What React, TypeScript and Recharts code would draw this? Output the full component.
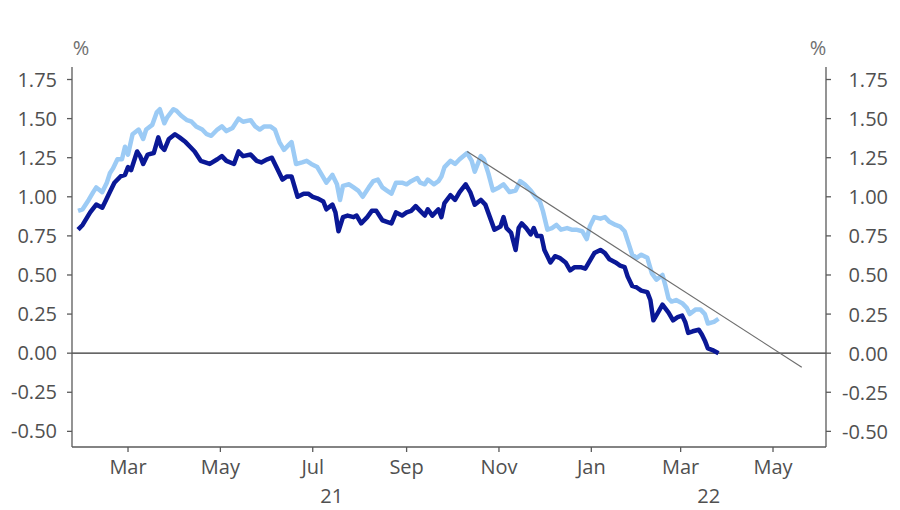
import { LineChart, Line, XAxis, YAxis, ReferenceLine } from "recharts";

// x values are days counted from 1 Jan 2021
const lightDays = [
  26, 29, 33, 36, 38, 42, 45, 47, 49, 52, 55, 57, 59, 62, 66, 69, 71, 75, 78, 80,
  83, 85, 89, 91, 94, 98, 101, 104, 108, 111, 114, 118, 121, 124, 128, 132, 135, 140, 143, 146,
  149, 153, 156, 159, 162, 165, 167, 170, 174, 177, 180, 184, 187, 190, 194, 197, 199, 201, 205, 208,
  211, 214, 218, 221, 224, 227, 230, 233, 236, 240, 243, 246, 250, 252, 255, 257, 261, 264, 266, 268,
  272, 275, 278, 283, 286, 288, 292, 294, 297, 300, 304, 307, 311, 315, 318, 321, 325, 328, 331, 333,
  336, 339, 342, 345, 349, 352, 355, 359, 362, 364, 367, 371, 374, 377, 381, 384, 387, 389, 392, 395,
  398, 402, 405, 408, 412, 414, 416, 418, 421, 425, 428, 430, 434, 437, 440, 442, 446, 449,
];
const lightValues = [
  0.91, 0.92, 0.98, 1.03, 1.06, 1.03, 1.09, 1.15, 1.18, 1.24, 1.24, 1.32, 1.27, 1.4, 1.43, 1.37, 1.43, 1.46, 1.54, 1.56,
  1.47, 1.51, 1.56, 1.55, 1.52, 1.49, 1.48, 1.45, 1.43, 1.4, 1.39, 1.43, 1.45, 1.42, 1.44, 1.5, 1.48, 1.49, 1.45, 1.43,
  1.45, 1.45, 1.43, 1.35, 1.3, 1.33, 1.35, 1.21, 1.22, 1.23, 1.21, 1.19, 1.14, 1.09, 1.14, 1.08, 0.98, 1.07, 1.08, 1.06,
  1.04, 1.0, 1.06, 1.1, 1.11, 1.06, 1.04, 1.02, 1.09, 1.09, 1.08, 1.1, 1.12, 1.09, 1.08, 1.11, 1.08, 1.1, 1.13, 1.19,
  1.23, 1.21, 1.24, 1.28, 1.23, 1.16, 1.26, 1.24, 1.15, 1.04, 1.06, 1.08, 1.03, 1.04, 1.1, 1.08, 1.04, 1.0, 0.97, 0.91,
  0.79, 0.8, 0.82, 0.79, 0.8, 0.79, 0.79, 0.78, 0.73, 0.81, 0.87, 0.86, 0.87, 0.84, 0.82, 0.81, 0.78, 0.72, 0.63, 0.61,
  0.63, 0.61, 0.51, 0.47, 0.5, 0.43, 0.35, 0.33, 0.34, 0.32, 0.29, 0.25, 0.28, 0.28, 0.25, 0.19, 0.2, 0.22,
];

const darkDays = [
  26, 29, 34, 38, 42, 44, 47, 50, 54, 57, 59, 61, 65, 67, 69, 72, 76, 79, 81, 83,
  86, 90, 93, 97, 100, 103, 107, 110, 113, 118, 121, 124, 129, 132, 135, 140, 144, 147, 151, 154,
  157, 161, 164, 167, 171, 175, 178, 181, 184, 188, 190, 194, 196, 198, 201, 204, 208, 210, 213, 217,
  220, 223, 227, 230, 233, 236, 240, 243, 246, 249, 252, 255, 257, 260, 264, 266, 268, 272, 275, 278,
  282, 285, 288, 292, 295, 298, 301, 305, 307, 309, 312, 315, 317, 319, 322, 325, 327, 329, 332, 334,
  338, 341, 344, 348, 351, 354, 358, 361, 364, 367, 371, 374, 377, 381, 384, 387, 389, 392, 395, 398,
  402, 404, 406, 409, 412, 416, 419, 422, 425, 427, 429, 432, 436, 438, 440, 442, 445, 449,
];
const darkValues = [
  0.79, 0.82, 0.9, 0.95, 0.93, 0.97, 1.03, 1.09, 1.13, 1.14, 1.19, 1.17, 1.29, 1.26, 1.21, 1.27, 1.28, 1.38, 1.32, 1.3,
  1.37, 1.4, 1.38, 1.35, 1.32, 1.29, 1.23, 1.22, 1.21, 1.24, 1.26, 1.23, 1.21, 1.29, 1.26, 1.27, 1.23, 1.22, 1.24, 1.25,
  1.19, 1.11, 1.13, 1.13, 1.0, 1.02, 1.02, 1.0, 0.99, 0.97, 0.92, 0.95, 0.9, 0.78, 0.87, 0.88, 0.87, 0.88, 0.83, 0.87,
  0.91, 0.91, 0.85, 0.84, 0.83, 0.9, 0.88, 0.9, 0.91, 0.94, 0.91, 0.88, 0.92, 0.88, 0.92, 0.87, 0.96, 1.01, 0.98, 1.03,
  1.08, 1.03, 0.95, 0.98, 0.95, 0.87, 0.79, 0.81, 0.87, 0.8, 0.77, 0.66, 0.8, 0.83, 0.8, 0.76, 0.8, 0.75, 0.75, 0.66,
  0.58, 0.62, 0.61, 0.58, 0.53, 0.55, 0.55, 0.54, 0.59, 0.64, 0.66, 0.64, 0.6, 0.58, 0.56, 0.55, 0.49, 0.43, 0.42, 0.4,
  0.39, 0.34, 0.21, 0.26, 0.31, 0.26, 0.21, 0.23, 0.24, 0.2, 0.13, 0.14, 0.15, 0.12, 0.08, 0.03, 0.02, 0.0,
];

const trendDays = [283, 504];
const trendValues = [1.29, -0.09];

const monthTicks = [59, 120, 181, 243, 304, 365, 424, 485];
const monthLabels = ["Mar", "May", "Jul", "Sep", "Nov", "Jan", "Mar", "May"];
const yearBounds = [22, 365, 520];
const yearLabels = ["21", "22"];
const yTicks = [-0.5, -0.25, 0, 0.25, 0.5, 0.75, 1, 1.25, 1.5, 1.75];

const xDomain: [number, number] = [yearBounds[0], yearBounds[yearBounds.length - 1]];
const yearTicks = yearLabels.map((_, i) => (yearBounds[i] + yearBounds[i + 1]) / 2);

const lightData = lightDays.map((d, i) => ({ d, v: lightValues[i] }));
const darkData = darkDays.map((d, i) => ({ d, v: darkValues[i] }));

const FONT = "'Open Sans', 'Noto Sans', sans-serif";
const FS = 20;
const TEXT = "#505050";
const AXIS = "#5a5a5a";

const RightTick = (props: any) => (
  <text x={props.x + 55} y={props.y} textAnchor="end" dominantBaseline="central"
    fontSize={FS} fontFamily={FONT} fill={TEXT}>
    {Number(props.payload.value).toFixed(2)}
  </text>
);

export default function App() {
  return (
    <div style={{ position: "absolute", left: 0, top: 0, width: 900, height: 510, background: "#fff" }}>
      <LineChart width={900} height={510} margin={{ top: 67, right: 0, bottom: 0, left: 0 }}>
        <XAxis
          dataKey="d" type="number" domain={xDomain} ticks={monthTicks} allowDataOverflow
          tickFormatter={(v) => monthLabels[monthTicks.indexOf(v)] ?? ""}
          height={30} tickSize={5} tickMargin={8}
          stroke={AXIS} strokeWidth={1.3}
          tick={{ fontSize: FS, fontFamily: FONT, fill: TEXT }}
        />
        <XAxis
          xAxisId="year" dataKey="d" type="number" domain={xDomain} ticks={yearTicks} allowDataOverflow
          tickFormatter={(v) => yearLabels[yearTicks.indexOf(v)] ?? ""}
          height={33} tickSize={0} tickMargin={12} axisLine={false} tickLine={false}
          tick={{ fontSize: FS, fontFamily: FONT, fill: TEXT }}
        />
        <YAxis
          type="number" domain={[-0.6, 1.83]} ticks={yTicks} allowDataOverflow
          width={72} tickSize={5} tickMargin={10}
          tickFormatter={(v) => Number(v).toFixed(2)}
          stroke={AXIS} strokeWidth={1.3}
          tick={{ fontSize: FS, fontFamily: FONT, fill: TEXT }}
          label={{ value: "%", position: "top", dx: 45, offset: 12, fontSize: FS, fontFamily: FONT, fill: "#707070" }}
        />
        <YAxis
          yAxisId="right" orientation="right" type="number" domain={[-0.6, 1.83]} ticks={yTicks} allowDataOverflow
          width={74} tickSize={5} tickMargin={2}
          stroke={AXIS} strokeWidth={1.3}
          tick={<RightTick />}
          label={{ value: "%", position: "top", dx: -45, offset: 12, fontSize: FS, fontFamily: FONT, fill: "#707070" }}
        />
        <ReferenceLine y={0} stroke="#333" strokeWidth={1.3} />
        {/* invisible copy so the year axis has a series to scale */}
        <Line xAxisId="year" data={lightData} dataKey="v" stroke="none" strokeWidth={0}
          dot={false} activeDot={false} isAnimationActive={false} />
        <Line data={lightData} dataKey="v" type="linear" stroke="#9ccbf5" strokeWidth={4.5}
          dot={false} isAnimationActive={false} strokeLinejoin="round" />
        <Line data={darkData} dataKey="v" type="linear" stroke="#0a1896" strokeWidth={4.5}
          dot={false} isAnimationActive={false} strokeLinejoin="round" />
        <ReferenceLine
          segment={[
            { x: trendDays[0], y: trendValues[0] },
            { x: trendDays[1], y: trendValues[1] },
          ]}
          stroke="#6e6e6e" strokeWidth={1.2}
        />
      </LineChart>
    </div>
  );
}
